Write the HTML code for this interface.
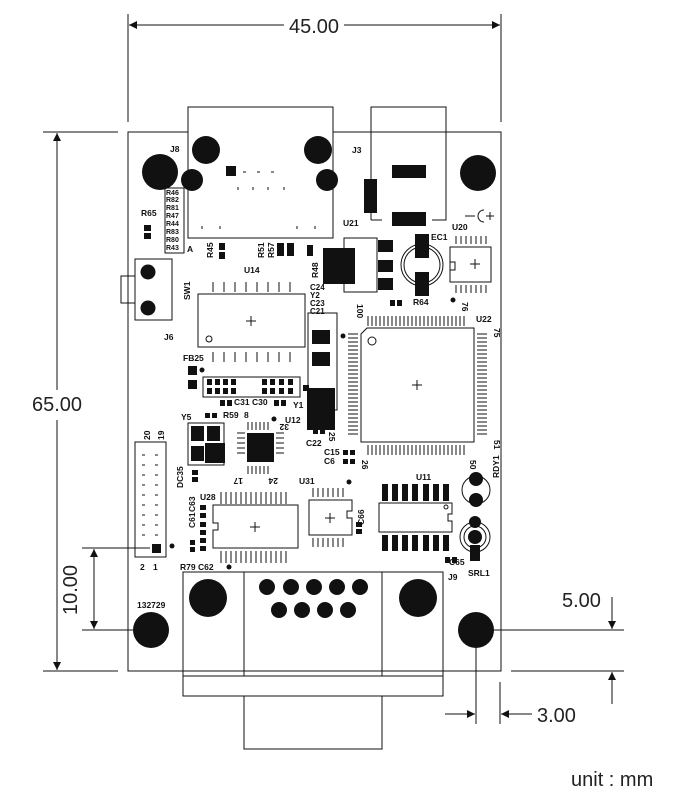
<!DOCTYPE html>
<html><head><meta charset="utf-8"><style>
html,body{margin:0;padding:0;background:#fff}
svg{display:block}
text{font-family:"Liberation Sans",sans-serif}
.l{font-size:8.5px;font-weight:bold;fill:#111}
.d{font-size:20px;fill:#222}
</style></head><body>
<svg width="674" height="798" viewBox="0 0 674 798" xmlns="http://www.w3.org/2000/svg">
<defs>
<marker id="a" viewBox="0 0 10 10" refX="10" refY="5" markerWidth="14" markerHeight="8" markerUnits="userSpaceOnUse" orient="auto"><path d="M0,0L10,5L0,10z" fill="#111"/></marker>
</defs>
<g stroke="#111" stroke-width="1" fill="none">
<line x1="128" y1="14" x2="128" y2="122"/><line x1="501" y1="14" x2="501" y2="122"/>
<line x1="284" y1="25" x2="129" y2="25" marker-end="url(#a)"/><line x1="344" y1="25" x2="500" y2="25" marker-end="url(#a)"/>
<line x1="43" y1="132" x2="118" y2="132"/><line x1="43" y1="671" x2="118" y2="671"/>
<line x1="57" y1="390" x2="57" y2="133" marker-end="url(#a)"/><line x1="57" y1="420" x2="57" y2="670" marker-end="url(#a)"/>
<line x1="82" y1="548" x2="150" y2="548"/><line x1="82" y1="630" x2="135" y2="630"/>
<line x1="94" y1="590" x2="94" y2="549" marker-end="url(#a)"/><line x1="94" y1="590" x2="94" y2="629" marker-end="url(#a)"/>
<line x1="494" y1="630" x2="624" y2="630"/><line x1="511" y1="671" x2="624" y2="671"/>
<line x1="612" y1="597" x2="612" y2="629" marker-end="url(#a)"/><line x1="612" y1="704" x2="612" y2="672" marker-end="url(#a)"/>
<line x1="476" y1="648" x2="476" y2="724"/><line x1="500" y1="682" x2="500" y2="724"/>
<line x1="445" y1="714" x2="475" y2="714" marker-end="url(#a)"/><line x1="532" y1="714" x2="501" y2="714" marker-end="url(#a)"/>
<rect x="128" y="132" width="373" height="539"/>
<rect x="188" y="107" width="145" height="131" fill="#fff"/>
<polyline points="371,220 371,107 446,107 446,220 432,220"/>
<line x1="371" y1="220" x2="382" y2="220"/>
<rect x="135" y="259" width="37" height="61"/><rect x="121" y="276" width="14" height="27"/>
<rect x="165" y="188" width="19" height="65"/>
<rect x="198" y="294" width="107" height="53"/><circle cx="209" cy="339" r="3"/>
<rect x="344" y="238" width="33" height="54"/>
<circle cx="422" cy="265" r="21"/><circle cx="422" cy="265" r="18"/>
<rect x="450" y="247" width="41" height="35"/>
<path d="M367,328 L474,328 L474,442 L361,442 L361,334 Z"/><circle cx="372" cy="341" r="4"/>
<rect x="308" y="313" width="29" height="97"/>
<rect x="203" y="377" width="97" height="20"/>
<rect x="188" y="423" width="36" height="42"/>
<rect x="135" y="442" width="31" height="115"/>
<path d="M213,505 H298 V548 H213 V530 H218 V523 H213 Z"/>
<path d="M309,500 H352 V511 H347 V518 H352 V535 H309 Z"/>
<path d="M379,503 H452 V514 H448 V521 H452 V532 H379 Z"/><circle cx="446" cy="507" r="2"/>
<circle cx="476" cy="490" r="14"/><circle cx="475" cy="537" r="15"/><circle cx="475" cy="537" r="11"/>
<rect x="183" y="572" width="260" height="124"/>
<line x1="244" y1="572" x2="244" y2="676"/><line x1="382" y1="572" x2="382" y2="676"/>
<line x1="183" y1="676" x2="443" y2="676"/>
<rect x="244" y="696" width="138" height="53"/>
<path d="M246,321h10M251,316v10M412,385h10M417,380v10M470,264h10M475,259v10M250,527h10M255,522v10M325,518h10M330,513v10M418,278h8M422,274v8"/>
<path d="M458,247 H464 M458,282H464 M450,262h5v8h-5"/>
<path d="M465,216h10M486,216h8M490,212v8"/><path d="M484,210 a6,6 0 1 0 0,12"/>
</g>
<g stroke="#111" stroke-width="1">
<path d="M368,316v10M372,316v10M376,316v10M380,316v10M384,316v10M388,316v10M392,316v10M396,316v10M400,316v10M404,316v10M408,316v10M412,316v10M416,316v10M420,316v10M424,316v10M428,316v10M432,316v10M436,316v10M440,316v10M444,316v10M448,316v10M452,316v10M456,316v10M460,316v10M464,316v10"/>
<path d="M368,445v10M372,445v10M376,445v10M380,445v10M384,445v10M388,445v10M392,445v10M396,445v10M400,445v10M404,445v10M408,445v10M412,445v10M416,445v10M420,445v10M424,445v10M428,445v10M432,445v10M436,445v10M440,445v10M444,445v10M448,445v10M452,445v10M456,445v10M460,445v10M464,445v10"/>
<path d="M348,334h10M348,338h10M348,342h10M348,346h10M348,350h10M348,354h10M348,358h10M348,362h10M348,366h10M348,370h10M348,374h10M348,378h10M348,382h10M348,386h10M348,390h10M348,394h10M348,398h10M348,402h10M348,406h10M348,410h10M348,414h10M348,418h10M348,422h10M348,426h10M348,430h10M348,434h10"/>
<path d="M477,334h10M477,338h10M477,342h10M477,346h10M477,350h10M477,354h10M477,358h10M477,362h10M477,366h10M477,370h10M477,374h10M477,378h10M477,382h10M477,386h10M477,390h10M477,394h10M477,398h10M477,402h10M477,406h10M477,410h10M477,414h10M477,418h10M477,422h10M477,426h10M477,430h10M477,434h10"/>
<path d="M213,282v10M224,282v10M235,282v10M246,282v10M257,282v10M268,282v10M279,282v10M290,282v10M213,352v10M224,352v10M235,352v10M246,352v10M257,352v10M268,352v10M279,352v10M290,352v10"/>
<path d="M221,492v12M226,492v12M231,492v12M236,492v12M241,492v12M246,492v12M251,492v12M256,492v12M261,492v12M266,492v12M271,492v12M276,492v12M281,492v12M286,492v12M221,551v12M226,551v12M231,551v12M236,551v12M241,551v12M246,551v12M251,551v12M256,551v12M261,551v12M266,551v12M271,551v12M276,551v12M281,551v12M286,551v12"/>
<path d="M313,488v9M318,488v9M323,488v9M328,488v9M333,488v9M338,488v9M343,488v9M313,538v9M318,538v9M323,538v9M328,538v9M333,538v9M338,538v9M343,538v9"/>
<path d="M456,236v8M461,236v8M466,236v8M471,236v8M476,236v8M481,236v8M486,236v8M456,285v8M461,285v8M466,285v8M471,285v8M476,285v8M481,285v8M486,285v8"/>
<path d="M248,422v8M252,422v8M256,422v8M260,422v8M264,422v8M268,422v8M248,466v8M252,466v8M256,466v8M260,466v8M264,466v8M268,466v8M237,433h8M237,438h8M237,443h8M237,448h8M237,453h8M276,433h8M276,438h8M276,443h8M276,448h8M276,453h8"/>
<path d="M142,455h3M142,465h3M142,475h3M142,485h3M142,495h3M142,505h3M142,515h3M142,525h3M142,535h3M155,455h3M155,465h3M155,475h3M155,485h3M155,495h3M155,505h3M155,515h3M155,525h3M155,535h3"/>
<path d="M228,172h3M243,172h3M257,172h3M271,172h3M238,187v3M253,187v3M268,187v3M284,187v3M202,226v3M220,226v3M297,226v3M315,226v3"/>
</g>
<g fill="#111">
<circle cx="160" cy="172" r="18"/><circle cx="478" cy="173" r="18"/><circle cx="151" cy="630" r="18"/><circle cx="476" cy="630" r="18"/>
<circle cx="206" cy="150" r="14"/><circle cx="318" cy="150" r="14"/><circle cx="192" cy="180" r="11"/><circle cx="327" cy="180" r="11"/>
<circle cx="148" cy="272" r="7.5"/><circle cx="148" cy="308" r="7.5"/>
<circle cx="208" cy="598" r="19"/><circle cx="418" cy="598" r="19"/>
<circle cx="267" cy="587" r="8"/><circle cx="291" cy="587" r="8"/><circle cx="314" cy="587" r="8"/><circle cx="337" cy="587" r="8"/><circle cx="360" cy="587" r="8"/>
<circle cx="279" cy="610" r="8"/><circle cx="302" cy="610" r="8"/><circle cx="325" cy="610" r="8"/><circle cx="348" cy="610" r="8"/>
<rect x="226" y="166" width="10" height="10"/>
<rect x="364" y="179" width="13" height="34"/><rect x="392" y="165" width="34" height="13"/><rect x="392" y="212" width="34" height="14"/>
<rect x="323" y="248" width="32" height="36"/><rect x="378" y="240" width="15" height="12"/><rect x="378" y="260" width="15" height="12"/><rect x="378" y="278" width="15" height="12"/>
<rect x="415" y="234" width="14" height="24"/><rect x="415" y="272" width="14" height="24"/>
<rect x="312" y="330" width="18" height="14"/><rect x="312" y="352" width="18" height="14"/>
<rect x="307" y="388" width="28" height="42"/><rect x="303" y="385" width="6" height="6"/>
<rect x="191" y="426" width="13" height="15"/><rect x="207" y="426" width="13" height="15"/><rect x="191" y="446" width="13" height="15"/><rect x="207" y="446" width="13" height="15"/>
<rect x="205" y="443" width="20" height="20"/>
<rect x="247" y="433" width="27" height="29"/>
<rect x="152" y="544" width="9" height="9"/>
<rect x="382" y="484" width="6" height="17"/><rect x="392" y="484" width="6" height="17"/><rect x="402" y="484" width="6" height="17"/><rect x="412" y="484" width="6" height="17"/><rect x="423" y="484" width="6" height="17"/><rect x="433" y="484" width="6" height="17"/><rect x="443" y="484" width="6" height="17"/>
<rect x="382" y="535" width="6" height="16"/><rect x="392" y="535" width="6" height="16"/><rect x="402" y="535" width="6" height="16"/><rect x="412" y="535" width="6" height="16"/><rect x="423" y="535" width="6" height="16"/><rect x="433" y="535" width="6" height="16"/><rect x="443" y="535" width="6" height="16"/>
<circle cx="476" cy="479" r="7"/><circle cx="476" cy="500" r="7"/><circle cx="475" cy="522" r="6"/><circle cx="475" cy="537" r="7"/><rect x="470" y="545" width="10" height="16"/>
<g>
<rect x="144" y="225" width="7" height="6"/><rect x="144" y="233" width="7" height="6"/>
<rect x="219" y="243" width="6" height="7"/><rect x="219" y="252" width="6" height="7"/>
<rect x="277" y="243" width="7" height="13"/><rect x="287" y="243" width="7" height="13"/><rect x="307" y="245" width="6" height="11"/>
<rect x="390" y="300" width="5" height="6"/><rect x="397" y="300" width="5" height="6"/>
<rect x="188" y="366" width="9" height="9"/><rect x="188" y="380" width="9" height="9"/>
<rect x="207" y="379" width="5" height="6"/><rect x="215" y="379" width="5" height="6"/><rect x="223" y="379" width="5" height="6"/><rect x="231" y="379" width="5" height="6"/>
<rect x="207" y="388" width="5" height="6"/><rect x="215" y="388" width="5" height="6"/><rect x="223" y="388" width="5" height="6"/><rect x="231" y="388" width="5" height="6"/>
<rect x="262" y="379" width="5" height="6"/><rect x="270" y="379" width="5" height="6"/><rect x="279" y="379" width="5" height="6"/><rect x="288" y="379" width="5" height="6"/>
<rect x="262" y="388" width="5" height="6"/><rect x="270" y="388" width="5" height="6"/><rect x="279" y="388" width="5" height="6"/><rect x="288" y="388" width="5" height="6"/>
<rect x="220" y="400" width="5" height="6"/><rect x="227" y="400" width="5" height="6"/><rect x="274" y="400" width="5" height="6"/><rect x="281" y="400" width="5" height="6"/>
<rect x="205" y="413" width="5" height="5"/><rect x="212" y="413" width="5" height="5"/>
<rect x="192" y="470" width="6" height="5"/><rect x="192" y="477" width="6" height="5"/>
<rect x="313" y="428" width="5" height="6"/><rect x="320" y="428" width="5" height="6"/>
<rect x="343" y="450" width="5" height="5"/><rect x="350" y="450" width="5" height="5"/><rect x="343" y="459" width="5" height="5"/><rect x="350" y="459" width="5" height="5"/>
<rect x="200" y="505" width="6" height="5"/><rect x="200" y="513" width="6" height="5"/><rect x="200" y="522" width="6" height="5"/><rect x="200" y="530" width="6" height="5"/><rect x="200" y="538" width="6" height="5"/><rect x="200" y="546" width="6" height="5"/>
<rect x="190" y="540" width="5" height="5"/><rect x="190" y="547" width="5" height="5"/>
<rect x="356" y="522" width="6" height="5"/><rect x="356" y="529" width="6" height="5"/>
<rect x="445" y="557" width="5" height="6"/><rect x="452" y="557" width="5" height="6"/>
<circle cx="202" cy="370" r="2.5"/><circle cx="343" cy="336" r="2.5"/><circle cx="453" cy="300" r="2.5"/><circle cx="172" cy="546" r="2.5"/><circle cx="229" cy="567" r="2.5"/><circle cx="349" cy="482" r="2.5"/><circle cx="274" cy="419" r="2.5"/>
</g>
</g>
<text class="d" x="289" y="33" textLength="50" lengthAdjust="spacingAndGlyphs">45.00</text>
<text class="d" x="32" y="411">65.00</text>
<text class="d" transform="translate(77,590) rotate(-90)" text-anchor="middle">10.00</text>
<text class="d" x="562" y="607">5.00</text>
<text class="d" x="537" y="722">3.00</text>
<text class="d" x="571" y="786">unit : mm</text>
<g class="l">
<text x="170" y="152">J8</text><text x="352" y="153">J3</text>
<text x="141" y="216">R65</text>
<text x="166" y="195" font-size="7">R46</text><text x="166" y="202" font-size="7">R82</text><text x="166" y="210" font-size="7">R81</text><text x="166" y="218" font-size="7">R47</text><text x="166" y="226" font-size="7">R44</text><text x="166" y="234" font-size="7">R83</text><text x="166" y="242" font-size="7">R80</text><text x="166" y="250" font-size="7">R43</text>
<text x="187" y="252">A</text>
<text x="343" y="226">U21</text><text x="431" y="240">EC1</text><text x="452" y="230">U20</text>
<text x="244" y="273">U14</text><text x="413" y="305">R64</text><text x="476" y="322">U22</text>
<text x="164" y="340">J6</text><text x="183" y="361">FB25</text>
<text x="310" y="290" font-size="8">C24</text><text x="310" y="298" font-size="8">Y2</text><text x="310" y="306" font-size="8">C23</text><text x="310" y="314" font-size="8">C21</text>
<text x="234" y="405">C31</text><text x="252" y="405">C30</text><text x="293" y="408">Y1</text>
<text x="181" y="420">Y5</text><text x="223" y="418">R59</text><text x="244" y="418">8</text><text x="285" y="423">U12</text>
<text x="306" y="446">C22</text><text x="324" y="455">C15</text><text x="324" y="464">C6</text>
<text x="299" y="484">U31</text><text x="416" y="480">U11</text><text x="200" y="500">U28</text>
<text x="180" y="570">R79</text><text x="198" y="570">C62</text><text x="449" y="565">C65</text>
<text x="468" y="576">SRL1</text><text x="448" y="580">J9</text>
<text x="137" y="608">132729</text>
<text x="140" y="570">2</text><text x="153" y="570">1</text>
<text transform="translate(213,258) rotate(-90)">R45</text>
<text transform="translate(264,258) rotate(-90)">R51</text><text transform="translate(274,258) rotate(-90)">R57</text>
<text transform="translate(318,278) rotate(-90)">R48</text>
<text transform="translate(190,300) rotate(-90)">SW1</text>
<text transform="translate(183,488) rotate(-90)">DC35</text>
<text transform="translate(150,440) rotate(-90)">20</text><text transform="translate(164,440) rotate(-90)">19</text>
<text transform="translate(195,528) rotate(-90)">C61</text><text transform="translate(195,512) rotate(-90)">C63</text>
<text transform="translate(364,525) rotate(-90)">C66</text>
<text transform="translate(499,478) rotate(-90)">RDY1</text>
<text transform="translate(357,304) rotate(90)">100</text><text transform="translate(462,302) rotate(90)">76</text>
<text transform="translate(494,328) rotate(90)">75</text><text transform="translate(494,440) rotate(90)">51</text>
<text transform="translate(329,432) rotate(90)">25</text><text transform="translate(362,460) rotate(90)">26</text>
<text transform="translate(470,460) rotate(90)">50</text>
<text transform="translate(289,424) rotate(180)">32</text><text transform="translate(243,478) rotate(180)">17</text><text transform="translate(278,478) rotate(180)">24</text>
</g>
</svg>
</body></html>
